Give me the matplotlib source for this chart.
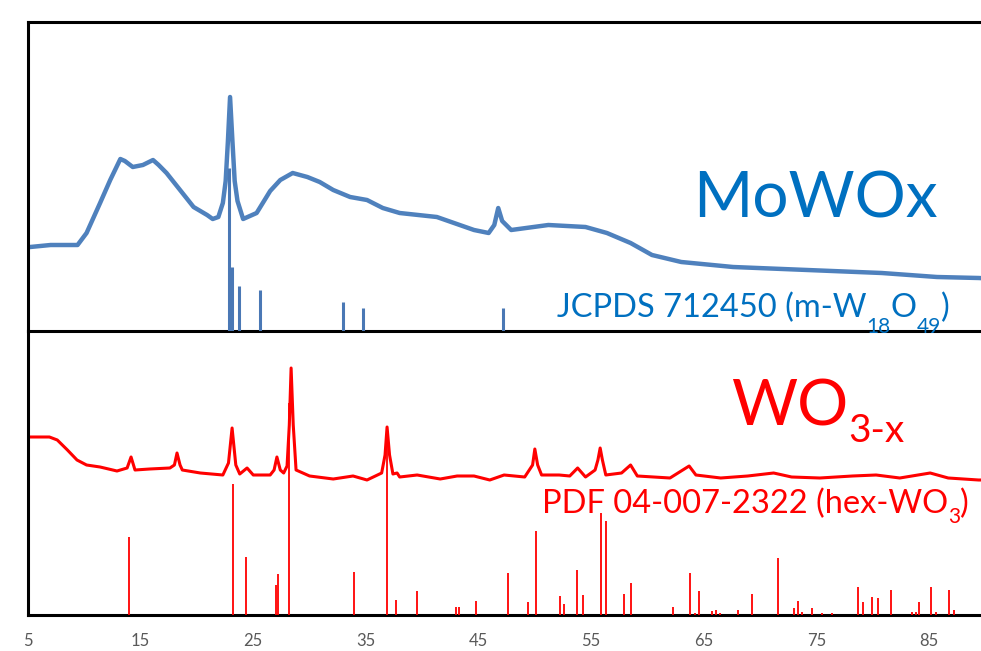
import matplotlib
matplotlib.use("Agg")
import matplotlib.pyplot as plt
from matplotlib.transforms import ScaledTranslation

plt.rcParams['font.family'] = ['Lato', 'DejaVu Sans']

# MoWOx measured pattern (2theta in deg, intensity a.u.)
mowox_2theta = [5.2, 7.0, 9.4, 10.2, 11.4, 12.3, 13.2, 13.6, 14.3, 15.2, 16.1, 16.6,
                17.3, 18.5, 19.7, 20.9, 21.4, 21.9, 22.3, 22.55, 22.75, 22.94, 23.15,
                23.35, 23.6, 24.1, 25.3, 26.5, 27.4, 28.5, 29.8, 30.9, 32.1, 33.6,
                35.1, 36.5, 38.0, 41.3, 44.6, 45.9, 46.4, 46.75, 47.1, 47.9, 51.2,
                54.5, 56.4, 58.5, 60.4, 63.0, 67.6, 74.2, 80.8, 85.7, 89.4, 91.3]
mowox_int = [84, 86, 86, 98, 128, 151, 172, 170, 164, 166, 171, 166,
             158, 141, 124, 116, 112, 114, 128, 150, 190, 234, 190,
             150, 130, 112, 118, 140, 151, 158, 154, 149, 141, 134,
             131, 123, 118, 114, 101, 98, 106, 123, 110, 101, 106,
             104, 98, 88, 76, 69, 64, 61, 58, 54, 53, 52]

# JCPDS 712450 (m-W18O49) reference lines
jcpds_2theta = [22.88, 23.1, 23.77, 25.6, 33.0, 34.75, 47.2]
jcpds_int = [163, 64, 45, 41, 29, 23, 23]

# WO3-x measured pattern
wo3_2theta = [5.2, 6.9, 7.6, 8.5, 9.35, 10.2, 11.4, 12.9, 13.8, 14.15, 14.5, 15.8,
              17.6, 18.0, 18.23, 18.5, 18.7, 20.3, 22.3, 22.8, 23.12, 23.45, 23.8,
              24.45, 25.0, 26.5, 26.85, 27.1, 27.4, 27.7, 28.0, 28.2, 28.36, 28.55,
              28.8, 30.0, 32.1, 33.86, 35.1, 36.4, 36.7, 36.88, 37.1, 37.4, 37.77,
              38.0, 39.55, 41.6, 43.1, 44.6, 46.0, 47.27, 49.1, 49.8, 50.0, 50.25,
              50.6, 52.16, 53.1, 53.8, 54.5, 55.35, 55.6, 55.8, 56.0, 56.3, 57.7,
              58.5, 59.1, 62.0, 63.7, 64.3, 66.5, 68.9, 71.2, 72.8, 75.3, 78.2,
              80.3, 82.4, 85.1, 86.7, 89.4, 91.3]
wo3_int = [178, 178, 175, 165, 155, 150, 148, 144, 147, 158, 145, 146,
           147, 150, 162, 150, 145, 142, 140, 152, 187, 150, 141,
           147, 140, 140, 145, 158, 145, 142, 149, 190, 247, 190,
           145, 139, 136, 139, 135, 142, 160, 188, 160, 141, 142,
           138, 140, 136, 139, 139, 135, 140, 138, 150, 166, 150,
           140, 140, 139, 147, 138, 145, 155, 167, 155, 140, 142,
           150, 139, 137, 149, 140, 137, 139, 142, 138, 137, 139,
           140, 137, 142, 137, 135, 135]

# PDF 04-007-2322 (hex-WO3) reference lines
pdf_2theta = [13.97, 23.2, 24.36, 27.0, 27.2, 28.18, 33.95, 36.9, 37.7, 39.5, 43.0,
              43.3, 44.8, 47.6, 49.4, 50.1, 52.2, 52.6, 53.7, 54.3, 55.9, 56.3, 57.9,
              58.5, 62.3, 63.8, 64.2, 64.6, 65.7, 66.1, 66.4, 68.0, 69.3, 71.6, 73.0,
              73.4, 73.7, 74.6, 75.5, 76.4, 78.7, 79.1, 79.9, 80.5, 81.6, 83.5, 83.8,
              84.1, 85.2, 85.6, 86.8, 87.2]
pdf_int = [78, 131, 58, 30, 41, 212, 43, 188, 15, 24, 8,
           8, 14, 42, 13, 84, 19, 11, 45, 20, 102, 94, 21,
           32, 8, 42, 2, 24, 4, 5, 2, 5, 21, 57, 7,
           14, 3, 7, 2, 2, 28, 13, 18, 17, 25, 3, 3,
           13, 28, 3, 25, 5]

xticks = [5, 15, 25, 35, 45, 55, 65, 75, 85]

blue_curve = '#4F81BD'
blue_text = '#0070C0'
red = '#FF0000'

fig = plt.figure(figsize=(9.81, 6.51), dpi=100)
ax_top = fig.add_axes([28 / 981, 1 - 331 / 651, 972 / 981, 309 / 651])
ax_bot = fig.add_axes([28 / 981, 1 - 615 / 651, 972 / 981, 284 / 651])
ax_bot.patch.set_visible(False)
renderer = fig.canvas.get_renderer()


def advance(s, size):
    # pen advance of s: width of s+'H' minus width of 'H'
    def w(txt):
        t = fig.text(0, 0, txt, fontsize=size)
        ext = t.get_window_extent(renderer).width
        t.remove()
        return ext
    return w(s + 'H') - w('H')


def rich_text(ax, x, y, parts, color):
    # parts: (text, fontsize, drop in px below baseline), centred on x
    advs = [advance(s, size) for s, size, drop in parts]
    off = -sum(advs) / 2
    for a, (s, size, drop) in zip(advs, parts):
        ax.text(x, y, s, color=color, fontsize=size, ha='left', va='baseline',
                transform=ax.transData + ScaledTranslation(off / fig.dpi, -drop / fig.dpi,
                                                           fig.dpi_scale_trans))
        off += a


# top panel
ax_top.set_xlim(5, 91.3)
ax_bot.set_xlim(5, 91.3)
ax_top.vlines(jcpds_2theta, 0, jcpds_int, color='#4A78B5', lw=2.2, zorder=3)
ax_top.plot(mowox_2theta, mowox_int, color=blue_curve, lw=3.2, zorder=2)
ax_top.set_ylim(0, 309)
ax_top.text(74.9, 113, 'MoWOx', color=blue_text, fontsize=46, ha='center', va='baseline')
rich_text(ax_top, 69.4, 14, [('JCPDS 712450 (m-W', 23.5, 0), ('18', 15, 16),
                              ('O', 23.5, 0), ('49', 15, 16), (')', 23.5, 0)], blue_text)

# bottom panel
ax_bot.vlines(pdf_2theta, 0, pdf_int, color=red, lw=1.3, zorder=3)
ax_bot.plot(wo3_2theta, wo3_int, color=red, lw=2.2, zorder=2)
ax_bot.set_ylim(0, 284)
rich_text(ax_bot, 75.1, 190, [('WO', 46, 0), ('3-x', 28, 17)], red)
rich_text(ax_bot, 69.6, 102, [('PDF 04-007-2322 (hex-WO', 23.5, 0), ('3', 15, 10),
                               (')', 23.5, 0)], red)

for ax in (ax_top, ax_bot):
    ax.set_yticks([])
    ax.spines['right'].set_visible(False)
    for s in ('left', 'top', 'bottom'):
        ax.spines[s].set_linewidth(2.2)
        ax.spines[s].set_color('black')

ax_bot.spines['top'].set_visible(False)
ax_top.set_xticks([])
ax_bot.set_xticks(xticks)
ax_bot.set_xticklabels([str(t) for t in xticks])
ax_bot.tick_params(axis='x', length=0, pad=13, labelsize=12, labelcolor='#595959')

fig.savefig('out.png', dpi=100)
